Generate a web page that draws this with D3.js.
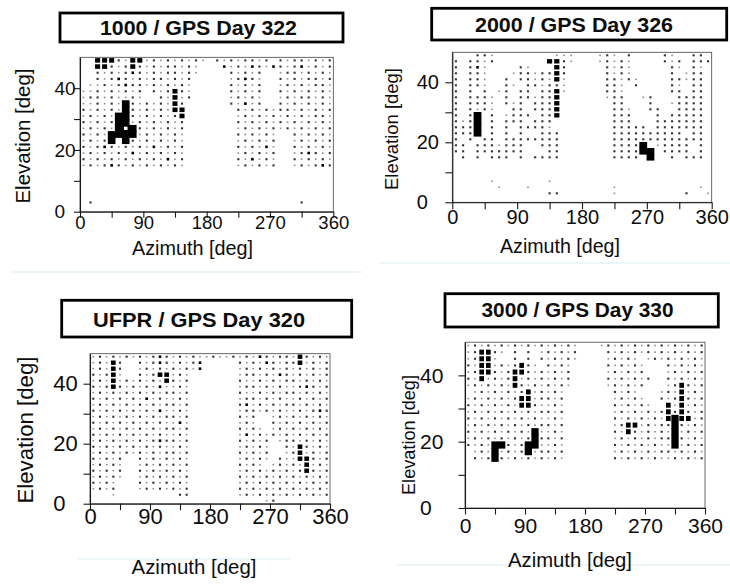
<!DOCTYPE html>
<html>
<head>
<meta charset="utf-8">
<title>Azimuth / Elevation maps</title>
<script src="https://cdn.jsdelivr.net/npm/d3@7/dist/d3.min.js"></script>
<style>
  body { margin: 0; background: #fff; }
  #chart svg { display: block; font-family: "Liberation Sans", Arial, Helvetica, sans-serif; }
  .title-box { fill: #fff; stroke: #000; stroke-width: 2.8; }
  .title-text { font-weight: bold; fill: #0d0d0d; }
  .frame { fill: none; stroke: #444; stroke-width: 0.8; }
  .axis .domain, .axis line { stroke: #1a1a1a; stroke-width: 1.1; }
  .axis text { fill: #0d0d0d; }
  .axis-title { fill: #0d0d0d; }
  .sep-line { stroke: #d9ebf2; stroke-width: 1.2; }
</style>
</head>
<body>
<div id="chart"></div>
<script>
var panelTitles = ["1000 / GPS Day 322", "2000 / GPS Day 326", "UFPR / GPS Day 320", "3000 / GPS Day 330"];
var axisTitles = ["Azimuth [deg]", "Elevation [deg]"];

// cell centres : 36 azimuth bins of 10 deg, 25 elevation bins of 2 deg (top row first)
var azimuthBins = [5, 15, 25, 35, 45, 55, 65, 75, 85, 95, 105, 115, 125, 135, 145, 155, 165, 175,
                   185, 195, 205, 215, 225, 235, 245, 255, 265, 275, 285, 295, 305, 315, 325, 335, 345, 355];
var elevationBins = [49, 47, 45, 43, 41, 39, 37, 35, 33, 31, 29, 27, 25, 23, 21, 19, 17, 15, 13, 11, 9, 7, 5, 3, 1];

var azimuthTicks = [0, 45, 90, 135, 180, 225, 270, 315, 360];
var azimuthLabels = [0, 90, 180, 270, 360];
var elevationTicks = [0, 10, 20, 30, 40];
var elevationLabels = [0, 20, 40];

// one char per cell : ' ' none, '.' weak, ':' medium, '*' strong, '#' square, '@' full cell, 'o' full cell w/ hole
var grid1000 = [
    "  ###:.##.:.:.:.:. :.:.::.: :.::.:.:",
    "  ##:.:#:.:.::.:.   *.:.*:.*:.:*.:.:",
    "  :.:.:*:.:.::.:.    :.:.:  .::.:.:.",
    "  :.:*:.:.::.:.:     .:*:.  :.:.::.:",
    " ..:.:*::.:.:.:.     :.:.:  .:.:.::.",
    "..:.:.:.: :.:#:.     :.:.:  :.:.:.:.",
    ".::.:..:.  :.#.:     .:.:.  .:.::.:.",
    "..:.:.@:.:.:.#:      :.*.:  :.:.:.:.",
    ":.:.:.@:.:.:.##       :.:.:.::.:.:.:",
    ".:.:.@@:.:.:.:#       .:.:.:.:.:.::.",
    ":.:.:@@.:.:.:.:       :.:.:.:.:.:.:.",
    ".:.:.@o@:.:.:.:       .:.:.:.:.:.:.:",
    ":.:.@@@@.:.:.:.       :.:.:.  :.:.:.",
    ".:.:@ @:.:.:.:.       .:.:.:  .:.:.:",
    ":.:*:.:.:.*.:.:       :.:.*.  :.:.:.",
    ".:.:.:.*.:.:.:.       .:.:.:  .:*:.:",
    ":.:.:.:.:.:.*.:       :.*.:.  :.:.:.",
    ".:.:*:.:.:.:.:.       .:.:.:  .:.:*:",
    "", "", "", "", "",
    " :                             :    ",
    ""
];

var grid2000 = [
    "   ::.        ...   .:. :    :.  :: ",
    ": ::.:       ##:.   .:.:.    :.: :::",
    ": :*.    :.   #:     :.:.     :. :. ",
    ": ::.   .::.::#:     :.:.     : .:: ",
    ": ::.  : ::.:.#.     ::.:.    ::.:: ",
    ": ::.  :. ::.::.     ::. :    :. :: ",
    ": : : .: :: ::#.     ::.      :: :: ",
    ": :::. : ::.::#      .::  .:   :::: ",
    ": :::. :.: :::#       ::   :  .:::: ",
    ": :.:.  :: :::#       ::.  ::  :::: ",
    ": :@ : .::: ::#       :::   : ::::: ",
    ":.:@ : ::: :::        :::   ::::::: ",
    ":::@ : : ::::.        ::::: ::::::: ",
    ":::@ : : :  :::       :::::::::: :: ",
    ": : :: ::::::::       ::::::::::::: ",
    ":: :::.:::  :::       ::::@ .:::: : ",
    ":: :::::::   ::       ::::@@ :::: : ",
    " : : ::: : ::::       :::: @  : ::: ",
    "", "", "",
    "     .       .",
    "      .   .           .           .",
    "             ::       .         :  .",
    ""
];

var gridUfpr = [
    ".:.:.:" + ".:.:*:" + ".:.:.." + ":..:.:" + ".*:.::" + ".#:.:.",
    ".:.#: " + " :.:*:" + ".:.:* " + "    :." + ":.*:.:" + ":#.:.:",
    ".:.#: " + " .:.:." + ":.:.* " + "    .:" + ".:.:.:" + ".:.:.:",
    ":.:#. " + " :.:##" + ".:.   " + "    .:" + ":.:.*:" + ".:.:.:",
    ".:.#.:" + ".:.:.#" + ":.:   " + "    :." + ".:.:.:" + ":.:.:.",
    ":.:#:." + ":.:.*." + ".:.   " + "    .:" + ":.:.:." + ".:*:.:",
    ".:.:.:" + ".:.:.:" + ":.:   " + "    :." + ".:.:.:" + ":.:.:.",
    ":.:.:." + ":.*.:." + ".:.   " + "    .:" + ":.:.:." + ".:.:.:",
    ".:.:.:" + ".:.:.:" + ":.:   " + "    :*" + ".:.:.:" + ":.:.:.",
    ":.:.:." + ":.:.*." + ".:.   " + "    .:" + ":.:.:." + ".:.:*:",
    ".:.:.:" + ".:.:.:" + ":.:   " + "    :." + ":  .:." + ":.:.:.",
    ":.:.:." + ":.:.:." + ".*.   " + "    .:" + ".  :.:" + ".:.:.:",
    ".:.:.:" + ".:.:.:" + ":.:   " + "    :." + ":. .:." + ":.:.:.",
    ":.:.:." + ":.:.:." + ".:.   " + "    .*" + ".:.:.:" + ".:.:.:",
    ".:.:.:" + ".:.:*:" + ":.:   " + "    :." + ":.: .:" + ":.:.:.",
    ":.:.:." + ":.:.:." + ".:.   " + "    .:" + ".:.  :" + ".#:.:.",
    ".:.:.:" + ".:.:.:" + ":.:   " + "    :." + ":.:  ." + ":#.:.:",
    ":.:.: " + " :.:.:" + ".:.   " + "    .:" + ".:. :." + ".##:.:",
    ".:.:. " + " .:.:." + ":.:   " + "    :." + ":. .:." + ":.#.:.",
    ":.:.: " + " :.:.:" + ".:.   " + "    .:" + ".:.:.:" + ".:#:.:",
    ".:.:. " + " .:.:." + ":.:   " + "    :." + ":.:.:." + ":.:.:.",
    ":.:.  " + " :.:.:" + ".:.   " + "    .:" + ".:.:.:" + ".:.:.:",
    ".:.:  " + " .:.:." + ":.:   " + "    :." + ":.:.:." + ":.:.:.",
    "   .  " + "      " + " ::   " + "    .:" + ".:.:.:" + ".:.:.:",
    "      " + "      " + "      " + "      " + "  .:  "
];

var grid3000 = [
    ".:.:.:" + ".:.:.:" + ".:.:. " + "  .:.:" + ".:.:.:" + ".:.:.:",
    ".:##:." + " : : ." + ":.:.: " + "   :.:" + ".:.:.:" + ".:.:.:",
    ".:##. " + " : : :" + ".:.:. " + "   .:." + ":. .:." + ":.:.:.",
    ":.##.:" + ".:#:. " + ":.:.  " + "   :.:" + ".:.   " + ":.:.:.",
    ".:##:." + ":##:.:" + ".:.:  " + "   .:." + ":.:   " + ".:.:.:",
    ":.#.:." + ":#.:.:" + ".:.:  " + "   :.:" + ".:.:  " + ":.:.:.",
    ".:.:.:" + ".#:.:." + ":.:.  " + "   .:." + ":.:   " + ".:#:.:",
    " .:.:." + ":.:#.:" + ".:.   " + "    :." + ":.   ." + ":.#.:.",
    ".:.:.:" + ".:##.:" + ":.:   " + "    .:" + ".:.  :" + ".:#:.:",
    ":.:.:." + ":.##:." + ".:.   " + "    :." + ":.:.  " + "#.#.:.",
    ".:.:.:" + ".:.:.:" + ":.:   " + "    .:" + ".:.:.:" + "#:#:.:",
    ":.:.:." + ":.:.:." + ".:.   " + "    :." + ":.:.:." + "#@##.:",
    ".:.:.:" + ".:.:.:" + ":.:   " + "    .:" + "##.:.:" + ":@:.:.",
    ":.:.:." + ":.:.@." + ".:.   " + "    :." + "#:.:.:" + ".@.:.:",
    ".:.:.:" + ".:.:@:" + ":.:   " + "    .:" + ".:.:.:" + ":@:.:.",
    ":.:.@@" + ":.:@@." + ".:.   " + "    :." + ":.:.:." + ".@.:.:",
    " .:.@." + ":.:@.:" + ":.:   " + "    .:" + ".:.:.:" + ":.:.:.",
    " :.:@:" + ".:.:.:" + ".:.   " + "    :." + ":.:.:." + ".:.:.:",
    "", "", "", "", "", "", ""
];

var panelGrids = [grid1000, grid2000, gridUfpr, grid3000];

// page geometry of each panel
var layouts = [
    { x0: 80, x1: 333.3, yB: 211.7, yT: 57.3, tick: 6,
      box: [60, 13, 283, 29], titleX: 198.5, titleY: 35, titleLen: 197, titleFont: 20,
      yLabelDx: 25.5, yTickFont: 19, xTickFont: 18.5, xPad: -1.5,
      xTitle: [192.5, 254.5, 121, 19.8], yTitle: [29.5, 136, 135, 20], sep: [11, 362, 272] },
    { x0: 452.3, x1: 711.7, yB: 202.3, yT: 52.3, tick: 7,
      box: [431.7, 8.3, 295, 31.7], titleX: 574, titleY: 31.7, titleLen: 198, titleFont: 20,
      yLabelDx: 35.6, yTickFont: 20, xTickFont: 20, xPad: 1,
      xTitle: [560, 252.5, 120, 19.6], yTitle: [398, 129, 122, 18.5], sep: [380, 730, 263] },
    { x0: 90, x1: 330, yB: 503.7, yT: 353.7, tick: 6.5,
      box: [61.7, 300.3, 290, 36.7], titleX: 199, titleY: 327, titleLen: 212, titleFont: 21,
      yLabelDx: 36.7, yTickFont: 22, xTickFont: 22, xPad: -1.5,
      xTitle: [194, 573.5, 125, 20.5], yTitle: [32.5, 430, 147, 22], sep: [77, 290, 559] },
    { x0: 465, x1: 705, yB: 508, yT: 342.2, tick: 6.5,
      box: [445, 293.7, 273.3, 33.3], titleX: 577.5, titleY: 317, titleLen: 192, titleFont: 20,
      yLabelDx: 45, yTickFont: 21, xTickFont: 21, xPad: 4,
      xTitle: [570, 566.5, 124, 20.3], yTitle: [414.7, 435, 120, 18], sep: [397, 730, 565] }
];

var dotLevels = [".", ":", "*"];
var dotSize = d3.scaleOrdinal().domain(dotLevels).range([1.6, 2.1, 2.6]);
var dotFill = d3.scaleOrdinal().domain(dotLevels).range(["#8c8c8c", "#333", "#000"]);

var GridMap = (function () {
    function GridMap(svg, layout, rows, title) {
        this.svg = svg;
        this.lay = layout;
        this.rows = rows;
        this.title = title;
        this.init();
    }
    return GridMap;
})();
var gm = GridMap.prototype;

gm.init = function () {
    var L = this.lay;
    this.x = d3.scaleLinear().domain([0, 360]).range([L.x0, L.x1]);
    this.y = d3.scaleLinear().domain([0, 50]).range([L.yB, L.yT]);
    this.g = this.svg.append("g").attr("class", "panel");
    this.drawSeparator();
    this.drawTitle();
    this.drawCells();
    this.drawAxes();
};

// faint scan line under each panel
gm.drawSeparator = function () {
    var s = this.lay.sep;
    this.g.append("line").attr("class", "sep-line")
        .attr("x1", s[0]).attr("x2", s[1]).attr("y1", s[2]).attr("y2", s[2]);
};

gm.drawTitle = function () {
    var L = this.lay;
    this.g.append("rect").attr("class", "title-box")
        .attr("x", L.box[0]).attr("y", L.box[1])
        .attr("width", L.box[2]).attr("height", L.box[3]);
    this.g.append("text").attr("class", "title-text")
        .attr("x", L.titleX).attr("y", L.titleY)
        .attr("text-anchor", "middle")
        .attr("font-size", L.titleFont)
        .attr("textLength", L.titleLen)
        .attr("lengthAdjust", "spacingAndGlyphs")
        .text(this.title);
};

gm.drawCells = function () {
    var x = this.x, y = this.y;
    var cw = x(10) - x(0), ch = y(0) - y(2);
    var cells = [];
    this.rows.forEach(function (row, j) {
        for (var i = 0; i < azimuthBins.length; i++) {
            var v = row.charAt(i);
            if (v !== "" && v !== " ") cells.push({ az: azimuthBins[i], el: elevationBins[j], v: v });
        }
    });

    var dots = cells.filter(function (d) { return dotLevels.indexOf(d.v) >= 0; });
    this.g.append("g").attr("class", "dots")
        .selectAll("rect").data(dots).enter().append("rect")
        .attr("x", function (d) { return x(d.az) - dotSize(d.v) / 2; })
        .attr("y", function (d) { return y(d.el) - dotSize(d.v) / 2; })
        .attr("width", function (d) { return dotSize(d.v); })
        .attr("height", function (d) { return dotSize(d.v); })
        .attr("fill", function (d) { return dotFill(d.v); });

    var squares = cells.filter(function (d) { return d.v === "#"; });
    this.g.append("g").attr("class", "squares")
        .selectAll("rect").data(squares).enter().append("rect")
        .attr("x", function (d) { return x(d.az) - (cw - 2) / 2; })
        .attr("y", function (d) { return y(d.el) - (ch - 1.6) / 2; })
        .attr("width", cw - 2).attr("height", ch - 1.6)
        .attr("fill", "#000");

    var full = cells.filter(function (d) { return d.v === "@" || d.v === "o"; });
    this.g.append("g").attr("class", "blocks")
        .selectAll("rect").data(full).enter().append("rect")
        .attr("x", function (d) { return x(d.az - 5) - 0.3; })
        .attr("y", function (d) { return y(d.el + 1) - 0.3; })
        .attr("width", cw + 0.6).attr("height", ch + 0.6)
        .attr("fill", "#000");

    var holes = cells.filter(function (d) { return d.v === "o"; });
    this.g.append("g").attr("class", "holes")
        .selectAll("rect").data(holes).enter().append("rect")
        .attr("x", function (d) { return x(d.az) - 1.8; })
        .attr("y", function (d) { return y(d.el) - 1.6; })
        .attr("width", 3.6).attr("height", 3.2)
        .attr("fill", "#fff");
};

gm.drawAxes = function () {
    var L = this.lay, x = this.x, y = this.y;

    // plot frame (top / right edges)
    this.g.append("rect").attr("class", "frame")
        .attr("x", L.x0).attr("y", L.yT)
        .attr("width", L.x1 - L.x0).attr("height", L.yB - L.yT);

    var gy = this.g.append("g").attr("class", "axis")
        .attr("transform", "translate(" + L.x0 + ",0)")
        .call(d3.axisLeft(y).tickValues(elevationTicks).tickSize(L.tick).tickSizeOuter(0)
            .tickFormat(function (d) { return elevationLabels.indexOf(d) >= 0 ? d : ""; }));
    gy.attr("font-family", null).attr("font-size", L.yTickFont);
    gy.selectAll("text").attr("text-anchor", "start").attr("x", -L.yLabelDx);

    var gx = this.g.append("g").attr("class", "axis")
        .attr("transform", "translate(0," + L.yB + ")")
        .call(d3.axisBottom(x).tickValues(azimuthTicks).tickSize(L.tick).tickSizeOuter(0)
            .tickPadding(L.xPad)
            .tickFormat(function (d) { return azimuthLabels.indexOf(d) >= 0 ? d : ""; }));
    gx.attr("font-family", null).attr("font-size", L.xTickFont);

    this.g.append("text").attr("class", "axis-title")
        .attr("x", L.xTitle[0]).attr("y", L.xTitle[1])
        .attr("text-anchor", "middle")
        .attr("font-size", L.xTitle[3])
        .attr("textLength", L.xTitle[2]).attr("lengthAdjust", "spacingAndGlyphs")
        .text(axisTitles[0]);

    this.g.append("text").attr("class", "axis-title")
        .attr("transform", "translate(" + L.yTitle[0] + "," + L.yTitle[1] + ") rotate(-90)")
        .attr("text-anchor", "middle")
        .attr("font-size", L.yTitle[3])
        .attr("textLength", L.yTitle[2]).attr("lengthAdjust", "spacingAndGlyphs")
        .text(axisTitles[1]);
};

var svg = d3.select("#chart").append("svg")
    .attr("width", 730).attr("height", 584);

panelTitles.forEach(function (t, k) {
    new GridMap(svg, layouts[k], panelGrids[k], t);
});
</script>
</body>
</html>
